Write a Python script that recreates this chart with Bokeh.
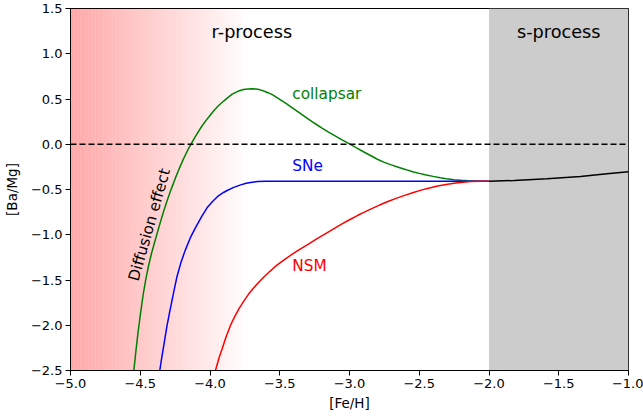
import numpy as np
from bokeh.plotting import figure
from bokeh.models import Range1d, FixedTicker, Label, Span, CustomJSTickFormatter
from bokeh.embed import file_html
from bokeh.resources import INLINE

# ---- data ----
collapsar_x = [-4.546, -4.53, -4.515, -4.50, -4.48, -4.46, -4.44, -4.42, -4.40, -4.38,
               -4.367, -4.34, -4.31, -4.28, -4.247, -4.22, -4.19, -4.16, -4.14, -4.10,
               -4.06, -4.02, -3.973, -3.94, -3.90, -3.87, -3.841, -3.80, -3.76, -3.73,
               -3.70, -3.67, -3.64, -3.61, -3.58, -3.55, -3.50, -3.45, -3.40, -3.35,
               -3.30, -3.25, -3.20, -3.15, -3.10, -3.05, -3.00, -2.95, -2.90, -2.85,
               -2.80, -2.75, -2.70, -2.65, -2.60, -2.547, -2.50, -2.45, -2.40, -2.35,
               -2.308, -2.25, -2.20, -2.15, -2.10, -2.05, -2.00]
collapsar_y = [-2.50, -2.27, -2.07, -1.89, -1.67, -1.49, -1.34, -1.21, -1.10, -0.99,
               -0.92, -0.78, -0.636, -0.504, -0.369, -0.267, -0.162, -0.066, -0.01, 0.098,
               0.196, 0.28, 0.37, 0.425, 0.48, 0.518, 0.553, 0.585, 0.604, 0.611,
               0.613, 0.610, 0.601, 0.586, 0.567, 0.545, 0.497, 0.446, 0.392, 0.338,
               0.284, 0.232, 0.182, 0.135, 0.090, 0.046, 0.005, -0.040, -0.083, -0.124,
               -0.166, -0.200, -0.228, -0.254, -0.278, -0.304, -0.322, -0.340, -0.355, -0.369,
               -0.380, -0.391, -0.398, -0.403, -0.406, -0.408, -0.408]

sne_x = [-4.36, -4.345, -4.33, -4.31, -4.29, -4.265, -4.238, -4.21, -4.18, -4.14,
         -4.10, -4.06, -4.02, -3.98, -3.94, -3.90, -3.877, -3.83, -3.78, -3.74,
         -3.71, -3.66, -3.60, -3.54, -2.00]
sne_y = [-2.50, -2.35, -2.21, -2.02, -1.86, -1.67, -1.47, -1.316, -1.181, -1.03,
         -0.91, -0.80, -0.70, -0.63, -0.57, -0.53, -0.511, -0.477, -0.449, -0.432,
         -0.422, -0.412, -0.408, -0.408, -0.408]

nsm_x = [-3.961, -3.935, -3.913, -3.885, -3.853, -3.823, -3.793, -3.758, -3.722, -3.686,
         -3.650, -3.614, -3.578, -3.518, -3.459, -3.41, -3.363, -3.30, -3.244, -3.18,
         -3.12, -3.06, -3.00, -2.94, -2.905, -2.845, -2.785, -2.725, -2.666, -2.60,
         -2.547, -2.487, -2.427, -2.368, -2.308, -2.25, -2.188, -2.13, -2.068, -2.00]
nsm_y = [-2.50, -2.36, -2.26, -2.13, -2.00, -1.905, -1.818, -1.733, -1.653, -1.585,
         -1.524, -1.466, -1.414, -1.333, -1.266, -1.215, -1.168, -1.108, -1.055, -0.995,
         -0.94, -0.886, -0.834, -0.785, -0.758, -0.714, -0.672, -0.633, -0.598, -0.562,
         -0.535, -0.507, -0.483, -0.462, -0.444, -0.430, -0.419, -0.412, -0.409, -0.408]

sproc_x = [-2.00, -1.82, -1.584, -1.345, -1.154, -1.00]
sproc_y = [-0.408, -0.400, -0.382, -0.356, -0.327, -0.305]

x_ticks = [-5.0, -4.5, -4.0, -3.5, -3.0, -2.5, -2.0, -1.5, -1.0]
y_ticks = [-2.5, -2.0, -1.5, -1.0, -0.5, 0.0, 0.5, 1.0, 1.5]
x_tick_labels = ["−5.0", "−4.5", "−4.0", "−3.5", "−3.0", "−2.5", "−2.0", "−1.5", "−1.0"]
y_tick_labels = ["−2.5", "−2.0", "−1.5", "−1.0", "−0.5", "0.0", "0.5", "1.0", "1.5"]

FONT = "DejaVu Sans"

p = figure(width=643, height=420, output_backend="svg", toolbar_location=None,
           x_range=Range1d(-5, -1), y_range=Range1d(-2.5, 1.5),
           min_border_left=70, min_border_right=15, min_border_top=8, min_border_bottom=50)
p.background_fill_color = "white"
p.border_fill_color = "white"
p.outline_line_color = "black"
p.outline_line_width = 1
p.xgrid.visible = False
p.ygrid.visible = False

# red diffusion gradient
edges = np.linspace(-5.0, -3.7, 131)
alphas = np.linspace(0.35, 0.0, 130)
p.quad(left=edges[:-1], right=edges[1:], bottom=-2.5, top=1.5,
       fill_color="red", fill_alpha=alphas, line_color=None)

# s-process grey region
p.quad(left=[-2.0], right=[-1.0], bottom=[-2.5], top=[1.5],
       fill_color="#cccccc", line_color=None)

p.add_layout(Span(location=0, dimension="width", line_color="black",
                  line_dash="6 3", line_width=1.5))

p.line(collapsar_x, collapsar_y, line_color="green", line_width=1.5)
p.line(sne_x, sne_y, line_color="blue", line_width=1.5)
p.line(nsm_x, nsm_y, line_color="red", line_width=1.5)
p.line(sproc_x, sproc_y, line_color="black", line_width=1.5)

def lab(x, y, t, color="black", size="15.3px", angle=0, align="left"):
    p.add_layout(Label(x=x, y=y, text=t, text_color=color, text_font=FONT,
                       text_font_size=size, angle=angle, angle_units="deg",
                       text_align=align, text_baseline="middle"))

lab(-3.70, 1.24, "r-process", size="17.7px", align="center")
lab(-1.50, 1.24, "s-process", size="17.7px", align="center")
lab(-3.41, 0.55, "collapsar", color="green")
lab(-3.41, -0.24, "SNe", color="blue")
lab(-3.41, -1.35, "NSM", color="red")
lab(-4.434, -0.89, "Diffusion effect", angle=74, align="center")

fmt_code = """
let best = -1, bd = 1e9;
for (let i = 0; i < tvals.length; i++) {
  const d = Math.abs(tvals[i] - tick);
  if (d < bd) { bd = d; best = i; }
}
return (best >= 0 && bd < 1e-6) ? tlabels[best] : tick.toFixed(1).replace('-', '\\u2212');
"""

for ax, tv, tl in ((p.xaxis, x_ticks, x_tick_labels), (p.yaxis, y_ticks, y_tick_labels)):
    ax.ticker = FixedTicker(ticks=tv)
    ax.formatter = CustomJSTickFormatter(args=dict(tvals=tv, tlabels=tl), code=fmt_code)
    ax.minor_tick_line_color = None
    ax.major_tick_in = 0
    ax.major_tick_out = 5
    ax.major_tick_line_color = "black"
    ax.axis_line_color = "black"
    ax.major_label_text_font = FONT
    ax.major_label_text_font_size = "13px"
    ax.major_label_text_color = "black"
    ax.axis_label_text_font = FONT
    ax.axis_label_text_font_size = "13.5px"
    ax.axis_label_text_font_style = "normal"
    ax.axis_label_text_color = "black"

p.xaxis.axis_label = "[Fe/H]"
p.yaxis.axis_label = "[Ba/Mg]"
p.xaxis.major_label_standoff = 3
p.yaxis.major_label_standoff = 3
p.xaxis.axis_label_standoff = 4
p.yaxis.axis_label_standoff = 8

open("out.html", "w").write(file_html(p, INLINE))
